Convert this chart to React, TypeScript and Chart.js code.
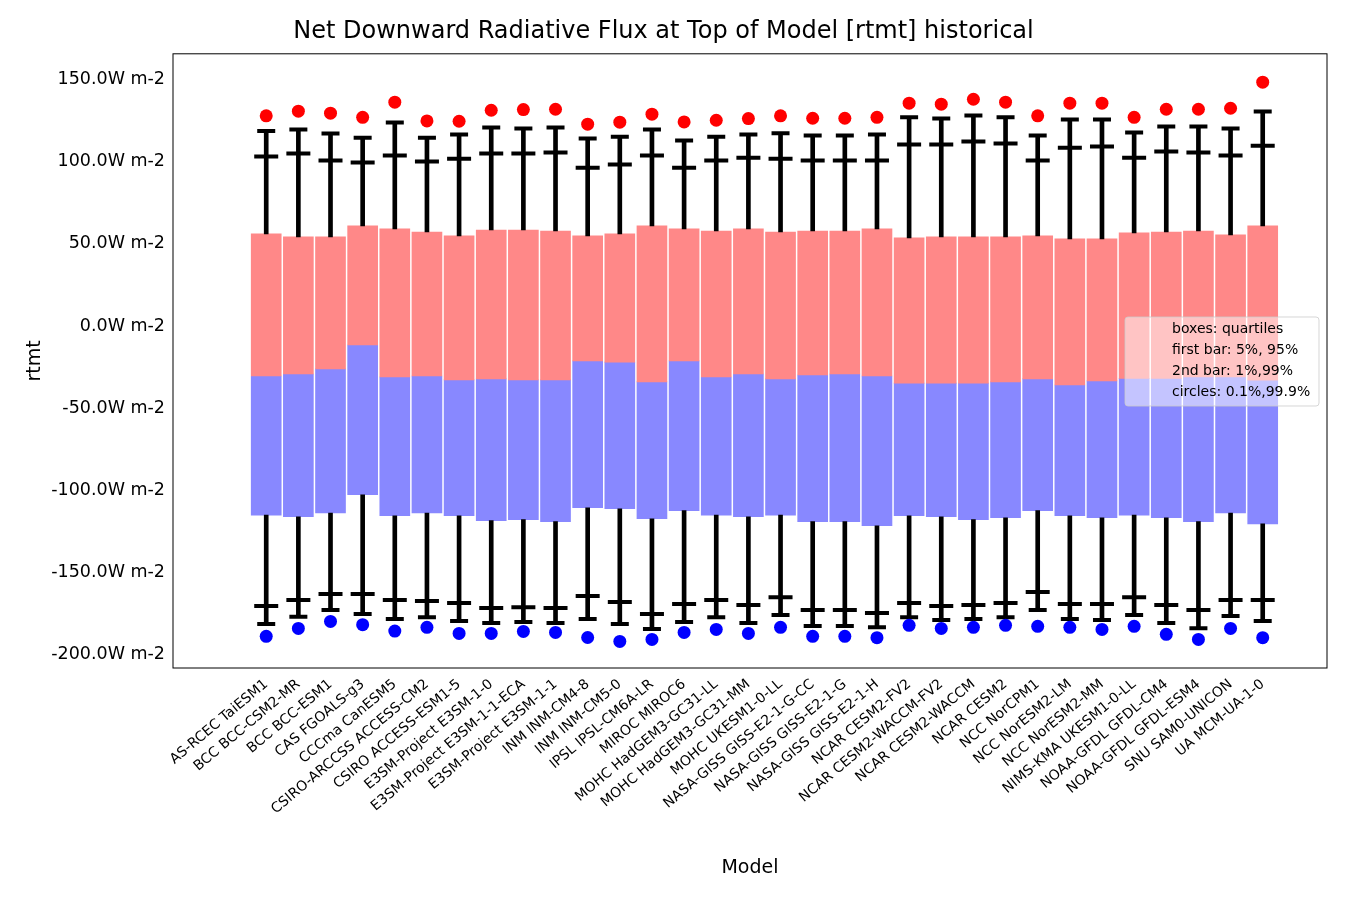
import React, { useEffect, useRef } from "react";
import { Chart, registerables } from "chart.js";

Chart.register(...registerables);

const models = [
  "AS-RCEC TaiESM1", "BCC BCC-CSM2-MR", "BCC BCC-ESM1", "CAS FGOALS-g3", "CCCma CanESM5",
  "CSIRO-ARCCSS ACCESS-CM2", "CSIRO ACCESS-ESM1-5", "E3SM-Project E3SM-1-0",
  "E3SM-Project E3SM-1-1-ECA", "E3SM-Project E3SM-1-1", "INM INM-CM4-8", "INM INM-CM5-0",
  "IPSL IPSL-CM6A-LR", "MIROC MIROC6", "MOHC HadGEM3-GC31-LL", "MOHC HadGEM3-GC31-MM",
  "MOHC UKESM1-0-LL", "NASA-GISS GISS-E2-1-G-CC", "NASA-GISS GISS-E2-1-G",
  "NASA-GISS GISS-E2-1-H", "NCAR CESM2-FV2", "NCAR CESM2-WACCM-FV2", "NCAR CESM2-WACCM",
  "NCAR CESM2", "NCC NorCPM1", "NCC NorESM2-LM", "NCC NorESM2-MM", "NIMS-KMA UKESM1-0-LL",
  "NOAA-GFDL GFDL-CM4", "NOAA-GFDL GFDL-ESM4", "SNU SAM0-UNICON", "UA MCM-UA-1-0",
];

const p999 = [128.1, 130.9, 129.7, 127.2, 136.4, 125.0, 124.8, 131.5, 131.9, 132.1, 123.0, 124.2, 129.1, 124.4, 125.4, 126.4, 128.1, 126.6, 126.6, 127.2, 135.8, 135.2, 138.2, 136.4, 128.1, 135.8, 135.8, 127.2, 132.1, 132.1, 132.7, 148.6];
const p99 = [118.9, 119.7, 117.3, 114.8, 124.0, 114.8, 116.7, 120.9, 120.3, 120.9, 114.2, 115.4, 119.7, 113.0, 115.4, 116.7, 117.5, 116.1, 116.1, 116.7, 127.2, 126.4, 128.3, 127.2, 116.1, 125.8, 125.8, 117.9, 121.6, 121.6, 120.3, 130.7];
const p95 = [103.3, 105.1, 100.8, 99.6, 103.9, 100.2, 102.0, 105.1, 105.1, 105.7, 96.5, 98.4, 103.9, 96.5, 100.8, 102.6, 102.0, 100.8, 100.8, 100.8, 110.6, 110.6, 112.4, 111.2, 100.8, 108.7, 109.4, 102.6, 106.3, 105.7, 103.9, 109.9];
const q3 = [56.1, 54.3, 54.3, 61.0, 59.2, 57.3, 54.9, 58.5, 58.5, 57.9, 54.9, 56.1, 61.0, 59.2, 57.9, 59.2, 57.3, 57.9, 57.9, 59.2, 53.7, 54.3, 54.3, 54.3, 54.9, 53.1, 53.1, 56.7, 57.3, 57.9, 55.5, 61.0];
const median = [-30.5, -29.3, -26.2, -11.6, -31.1, -30.5, -32.9, -32.3, -32.9, -32.9, -21.3, -22.0, -34.1, -21.3, -31.1, -29.3, -32.3, -29.9, -29.3, -30.5, -34.8, -34.8, -34.8, -34.1, -32.3, -36.0, -33.5, -32.0, -32.0, -31.0, -31.0, -33.0];
const q1 = [-115.3, -116.3, -114.0, -102.9, -115.7, -114.0, -115.7, -118.7, -118.1, -119.3, -110.8, -111.4, -117.5, -112.6, -115.3, -116.3, -115.3, -119.3, -119.3, -121.8, -115.7, -116.3, -118.1, -116.9, -112.6, -115.7, -116.9, -115.3, -116.9, -119.3, -114.0, -120.6];
const p5 = [-170.7, -167.1, -163.4, -163.4, -167.1, -167.7, -168.9, -172.0, -171.4, -172.0, -164.6, -168.3, -175.6, -169.5, -167.1, -170.1, -165.3, -173.2, -173.2, -175.0, -168.9, -170.7, -170.1, -168.9, -162.2, -169.5, -169.5, -165.3, -170.1, -173.2, -167.1, -167.1];
const p1 = [-181.7, -177.3, -173.2, -175.6, -178.7, -177.5, -179.9, -181.1, -180.5, -181.1, -178.7, -181.7, -184.8, -180.5, -177.5, -181.1, -176.2, -182.9, -182.9, -183.6, -177.5, -179.3, -178.7, -177.5, -173.2, -178.7, -179.3, -176.2, -181.1, -184.2, -176.8, -179.9];
const p001 = [-189.2, -184.4, -180.1, -182.1, -186.0, -183.7, -187.4, -187.4, -186.2, -186.8, -189.9, -192.3, -191.1, -186.8, -185.0, -187.4, -183.7, -189.2, -189.2, -190.0, -182.5, -184.4, -183.7, -182.5, -183.1, -183.7, -185.0, -183.1, -188.0, -191.1, -184.4, -190.0];

const yTicks = [-200, -150, -100, -50, 0, 50, 100, 150];
const legendLines = ["boxes: quartiles", "first bar: 5%, 95%", "2nd bar: 1%,99%", "circles: 0.1%,99.9%"];

const FONT = "DejaVu Sans";

const frameAndLegend = {
  id: "frameAndLegend",
  afterDraw(chart: any) {
    const { ctx, chartArea } = chart;
    ctx.save();
    ctx.strokeStyle = "#000";
    ctx.lineWidth = 1;
    ctx.strokeRect(chartArea.left, chartArea.top, chartArea.right - chartArea.left, chartArea.bottom - chartArea.top);
    // legend box
    const x = 1125, y = 317, w = 194, h = 89;
    ctx.fillStyle = "rgba(255,255,255,0.5)";
    ctx.strokeStyle = "rgba(204,204,204,0.8)";
    ctx.beginPath();
    ctx.roundRect(x, y, w, h, 3);
    ctx.fill();
    ctx.stroke();
    ctx.fillStyle = "#000";
    ctx.font = `14px "${FONT}"`;
    ctx.textBaseline = "middle";
    legendLines.forEach((t, i) => ctx.fillText(t, 1172, 329 + i * 21.2));
    ctx.restore();
  },
};

const App: React.FC = () => {
  const chartRef = useRef<HTMLCanvasElement>(null);
  const chartInstance = useRef<Chart | null>(null);

  useEffect(() => {
    document.body.style.margin = "0";
    if (chartRef.current) {
      const ctx = chartRef.current.getContext("2d");
      if (ctx) {
        if (chartInstance.current) chartInstance.current.destroy();
        const idx = models.map((_, i) => i);
        const range = (a: number[], b: number[]) => idx.map((i) => ({ x: i, y: [a[i], b[i]] }));
        const pts = (a: number[]) => idx.map((i) => ({ x: i, y: a[i] }));
        const cap = (a: number[], r: number) => ({
          type: "scatter" as const,
          data: pts(a),
          pointStyle: "line",
          pointRadius: r,
          pointBorderWidth: 4,
          borderColor: "#000",
          backgroundColor: "#000",
          order: 1,
        });
        chartInstance.current = new Chart(ctx, {
          type: "bar",
          data: {
            datasets: [
              { data: range(median, q3) as any, backgroundColor: "#ff8888", barThickness: 30, grouped: false, order: 5 },
              { data: range(q1, median) as any, backgroundColor: "#8888ff", barThickness: 30, grouped: false, order: 5 },
              { data: range(q3, p99) as any, backgroundColor: "#000", barThickness: 4, grouped: false, order: 2 },
              { data: range(p1, q1) as any, backgroundColor: "#000", barThickness: 4, grouped: false, order: 2 },
              cap(p95, 12) as any,
              cap(p5, 12) as any,
              cap(p99, 9) as any,
              cap(p1, 9) as any,
              { type: "scatter", data: pts(p999), pointRadius: 6.5, backgroundColor: "#ff0000", borderWidth: 0, order: 0 } as any,
              { type: "scatter", data: pts(p001), pointRadius: 6.5, backgroundColor: "#0000ff", borderWidth: 0, order: 0 } as any,
            ],
          },
          options: {
            responsive: false,
            animation: false,
            layout: { padding: { left: 0, right: 23, top: 0, bottom: 0 } },
            plugins: {
              legend: { display: false },
              tooltip: { enabled: false },
              title: {
                display: true,
                text: "Net Downward Radiative Flux at Top of Model [rtmt] historical",
                color: "#000",
                font: { family: FONT, size: 24, weight: "normal" },
                padding: { top: 17, bottom: 8 },
              },
            },
            scales: {
              x: {
                type: "linear",
                offset: false,
                min: -2.9,
                max: 33.0,
                grid: { display: false, drawTicks: true, tickLength: 5, tickColor: "#000" } as any,
                border: { display: false },
                afterBuildTicks: (s: any) => {
                  s.ticks = idx.map((v) => ({ value: v }));
                },
                afterFit: (s: any) => {
                  s.height = 232;
                },
                ticks: {
                  autoSkip: false,
                  minRotation: 40,
                  maxRotation: 40,
                  color: "#000",
                  font: { family: FONT, size: 14 },
                  callback: (v: any) => models[v] ?? "",
                },
                title: {
                  display: true,
                  text: "Model",
                  color: "#000",
                  font: { family: FONT, size: 19 },
                  padding: { top: 0, bottom: 21 },
                },
              },
              y: {
                min: -208.5,
                max: 165.9,
                grid: { display: false, drawTicks: true, tickLength: 5, tickColor: "#000" } as any,
                border: { display: false },
                afterBuildTicks: (s: any) => {
                  s.ticks = yTicks.map((v) => ({ value: v }));
                },
                afterFit: (s: any) => {
                  s.width = 173;
                },
                ticks: {
                  color: "#000",
                  font: { family: FONT, size: 17.5 },
                  callback: (v: any) => `${Number(v).toFixed(1)}W m-2`,
                },
                title: {
                  display: true,
                  text: "rtmt",
                  color: "#000",
                  font: { family: FONT, size: 19 },
                  padding: { top: 24, bottom: 0 },
                },
              },
            },
          },
          plugins: [frameAndLegend],
        });
      }
    }
    return () => {
      if (chartInstance.current) {
        chartInstance.current.destroy();
        chartInstance.current = null;
      }
    };
  }, []);

  return (
    <div style={{ width: 1350, height: 900, background: "#fff" }}>
      <canvas ref={chartRef} width={1350} height={900} />
    </div>
  );
};

export default App;
